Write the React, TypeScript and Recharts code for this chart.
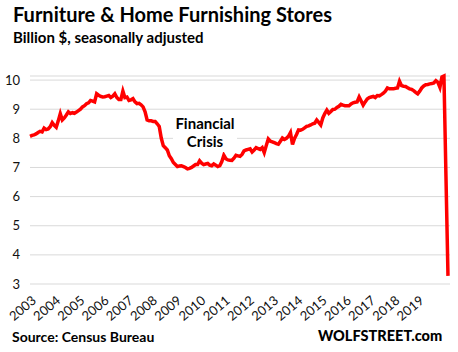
import React from "react";
import { LineChart, Line, XAxis, YAxis, CartesianGrid } from "recharts";

// monthly sales, billion $ SA, Jan 2003 .. Apr 2020
const y2003 = [8.07, 8.1, 8.12, 8.15, 8.2, 8.24, 8.22, 8.35, 8.3, 8.32, 8.4, 8.54];
const y2004 = [8.45, 8.38, 8.6, 8.85, 8.63, 8.7, 8.8, 8.91, 8.85, 8.88, 8.86, 8.9];
const y2005 = [8.95, 9.0, 9.08, 9.12, 9.19, 9.22, 9.3, 9.28, 9.25, 9.53, 9.48, 9.44];
const y2006 = [9.42, 9.43, 9.45, 9.47, 9.4, 9.45, 9.53, 9.4, 9.33, 9.33, 9.62, 9.4];
const y2007 = [9.42, 9.3, 9.32, 9.36, 9.25, 9.19, 9.2, 9.15, 9.08, 8.91, 8.63, 8.6];
const y2008 = [8.6, 8.58, 8.58, 8.5, 8.41, 8.01, 7.75, 7.68, 7.6, 7.4, 7.3, 7.17];
const y2009 = [7.1, 7.03, 7.05, 7.06, 7.03, 7.0, 6.95, 6.97, 7.0, 7.05, 7.1, 7.1];
const y2010 = [7.23, 7.15, 7.1, 7.12, 7.14, 7.08, 7.06, 7.12, 7.08, 7.03, 7.06, 7.2];
const y2011 = [7.42, 7.3, 7.26, 7.25, 7.24, 7.32, 7.42, 7.4, 7.38, 7.45, 7.57, 7.6];
const y2012 = [7.62, 7.64, 7.53, 7.6, 7.68, 7.65, 7.62, 7.68, 7.51, 7.75, 7.98, 7.9];
const y2013 = [7.88, 7.85, 7.82, 7.8, 7.9, 8.01, 7.96, 8.0, 8.07, 8.2, 7.79, 8.0];
const y2014 = [8.13, 8.29, 8.28, 8.31, 8.36, 8.41, 8.43, 8.46, 8.5, 8.52, 8.63, 8.55];
const y2015 = [8.46, 8.7, 8.85, 8.97, 8.86, 8.92, 8.99, 9.0, 9.06, 9.1, 9.17, 9.14];
const y2016 = [9.12, 9.12, 9.12, 9.18, 9.22, 9.24, 9.25, 9.42, 9.28, 9.14, 9.25, 9.35];
const y2017 = [9.4, 9.42, 9.44, 9.4, 9.47, 9.46, 9.5, 9.55, 9.62, 9.73, 9.7, 9.7];
const y2018 = [9.7, 9.72, 9.73, 9.96, 9.81, 9.79, 9.78, 9.74, 9.7, 9.68, 9.64, 9.58];
const y2019 = [9.53, 9.62, 9.73, 9.8, 9.84, 9.85, 9.87, 9.88, 9.9, 9.98, 9.92, 9.75];
const y2020 = [10.11, 10.14, 6.7, 3.28];

const sales = [
  ...y2003, ...y2004, ...y2005, ...y2006, ...y2007, ...y2008, ...y2009,
  ...y2010, ...y2011, ...y2012, ...y2013, ...y2014, ...y2015, ...y2016,
  ...y2017, ...y2018, ...y2019, ...y2020,
];

const years = [
  2003, 2004, 2005, 2006, 2007, 2008, 2009, 2010, 2011, 2012, 2013, 2014,
  2015, 2016, 2017, 2018, 2019,
];
const yTicks = [3, 4, 5, 6, 7, 8, 9, 10];

const data = sales.map((v, i) => ({ m: i, v }));
const xTicks = years.map((_, i) => i * 12);

const FONT = "Lato, 'Open Sans', sans-serif";

function YearTick(props: any) {
  const { x, y, payload } = props;
  const ax = x + 7;
  const ay = y + 10;
  return (
    <text
      x={ax}
      y={ay}
      textAnchor="end"
      fontSize={13}
      fontFamily={FONT}
      fill="#111"
      transform={`rotate(-40, ${ax}, ${ay})`}
    >
      {years[payload.value / 12]}
    </text>
  );
}

export default function App() {
  return (
    <div
      style={{
        position: "absolute",
        left: 0,
        top: 0,
        width: 458,
        height: 352,
        background: "#fff",
        fontFamily: FONT,
      }}
    >
      <div style={{ position: "absolute", left: 13, top: 2, fontSize: 20, fontWeight: 700, color: "#000" }}>
        Furniture &amp; Home Furnishing Stores
      </div>
      <div style={{ position: "absolute", left: 13, top: 28, fontSize: 15, fontWeight: 700, color: "#000" }}>
        Billion $, seasonally adjusted
      </div>

      <LineChart
        width={458}
        height={352}
        data={data}
        margin={{ top: 76, right: 8, bottom: 28, left: 0 }}
      >
        <CartesianGrid vertical={false} stroke="#d9d9d9" />
        <XAxis
          dataKey="m"
          type="number"
          domain={[0, 208]}
          ticks={xTicks}
          interval={0}
          axisLine={false}
          tickLine={false}
          height={40}
          tick={<YearTick />}
        />
        <YAxis
          domain={[3, 10]}
          ticks={yTicks}
          width={30}
          axisLine={false}
          tickLine={false}
          tickMargin={4}
          tick={{ fontSize: 13, fill: "#111", fontFamily: FONT }}
        />
        <Line
          dataKey="v"
          stroke="#ff0000"
          strokeWidth={3.5}
          dot={false}
          type="linear"
          isAnimationActive={false}
        />
      </LineChart>

      <div
        style={{
          position: "absolute",
          left: 173,
          top: 112,
          width: 64,
          height: 40,
          background: "#fff",
          textAlign: "center",
          fontSize: 15,
          fontWeight: 700,
          lineHeight: "18px",
          paddingTop: 2,
          boxSizing: "border-box",
          color: "#000",
        }}
      >
        Financial
        <br />
        Crisis
      </div>

      <div style={{ position: "absolute", left: 12, top: 328, fontSize: 14, fontWeight: 700, color: "#000" }}>
        Source: Census Bureau
      </div>
      <div style={{ position: "absolute", left: 318, top: 327, fontSize: 14.5, fontWeight: 900, color: "#000" }}>
        WOLFSTREET.com
      </div>
    </div>
  );
}
